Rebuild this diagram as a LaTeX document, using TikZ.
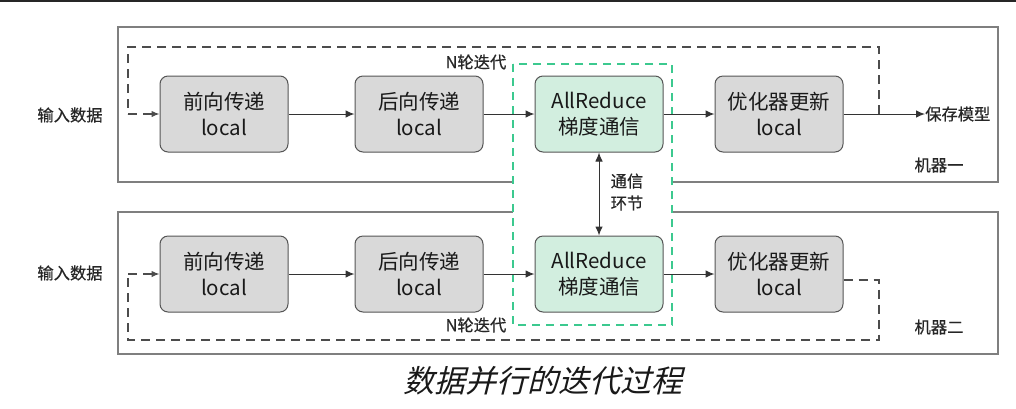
\documentclass[tikz,border=0pt]{standalone}
\usepackage{fontspec}
\setmainfont{Noto Sans CJK SC}
\newfontfamily\titlefont[FakeSlant=0.25]{Noto Sans CJK SC}
\newfontfamily\lblfont[FakeBold=0.6]{Noto Sans CJK SC}
\usetikzlibrary{arrows.meta,calc}
\definecolor{procgray}{HTML}{D9D9D9}
\definecolor{mint}{HTML}{D2EEDF}
\definecolor{dashgreen}{HTML}{3CC98F}
\definecolor{edgegray}{HTML}{555555}
\definecolor{boxgray}{HTML}{7F7F7F}
\begin{document}
\begin{tikzpicture}[x=1pt,y=-1pt,
  proc/.style={draw=edgegray, fill=procgray, rounded corners=8pt, minimum width=128pt, minimum height=76pt, align=center, line width=1pt, font=\fontsize{20.5}{26}\selectfont, inner sep=0pt, text=black!90},
  comm/.style={proc, fill=mint},
  lbl/.style={font=\lblfont\fontsize{16.3}{22}\selectfont, inner sep=0pt, align=center, text=black!85},
  flow/.style={-{Latex[length=9pt,width=7.5pt]}, line width=1pt, draw=black!80},
  loopline/.style={dash pattern=on 9pt off 6pt, line width=1.2pt, draw=black!70},
  machine/.style={draw=boxgray, line width=1.5pt},
]
\useasboundingbox (0,0) rectangle (1016,408);
\fill[white] (0,0) rectangle (1016,408);
\draw[line width=1.6pt, black!85] (0,0.8) -- (1016,0.8);

% machine frames
\draw[machine] (118,27) rectangle (998,182);
\draw[machine] (118,212) rectangle (998,354);

% communication region
\draw[dashgreen, fill=white, line width=1.2pt, dash pattern=on 8pt off 6pt] (513,64) rectangle (672,325);

% machine 1
\node[proc] (f1) at (224,114) {前向传递\\local};
\node[proc] (b1) at (419,114) {后向传递\\local};
\node[comm] (a1) at (599,114) {AllReduce\\梯度通信};
\node[proc] (o1) at (779,114) {优化器更新\\local};
\node[lbl] (in1) at (70,115) {输入数据};
\node[lbl, anchor=west] (save) at (925,114) {保存模型};
\node[lbl] (m1) at (939,165) {机器一};
\node[lbl] (n1) at (476,62) {N轮迭代};

% machine 2
\node[proc] (f2) at (224,274) {前向传递\\local};
\node[proc] (b2) at (419,274) {后向传递\\local};
\node[comm] (a2) at (599,274) {AllReduce\\梯度通信};
\node[proc] (o2) at (779,274) {优化器更新\\local};
\node[lbl] (in2) at (70,273) {输入数据};
\node[lbl] (m2) at (939,327) {机器二};
\node[lbl] (n2) at (476,325) {N轮迭代};

\node[lbl] (comlbl) at (627,192) {通信\\环节};

% solid flows
\draw[flow] (f1) -- (b1);
\draw[flow] (b1) -- (a1);
\draw[flow] (a1) -- (o1);
\draw[flow] (o1) -- (save);
\draw[flow] (f2) -- (b2);
\draw[flow] (b2) -- (a2);
\draw[flow] (a2) -- (o2);
\draw[{Latex[length=9pt,width=7.5pt]}-{Latex[length=9pt,width=7.5pt]}, line width=1pt, draw=black!80] (a1) -- (a2);

% iteration loops
\coordinate (j1) at (879,114);
\coordinate (j1t) at (879,47);
\coordinate (s1t) at (128,47);
\coordinate (s1) at (128,114);
\draw[loopline] (j1) -- (j1t) -- (s1t) -- (s1);
\draw[loopline, -{Latex[length=8pt,width=6.5pt]}] (s1) -- (f1.west);

\coordinate (j2) at ($(o2.east)+(0,6)$);
\coordinate (j2r) at (879,280);
\coordinate (j2b) at (879,340);
\coordinate (s2b) at (128,340);
\coordinate (s2) at (128,274);
\draw[loopline] (j2) -- (j2r) -- (j2b) -- (s2b) -- (s2);
\draw[loopline, -{Latex[length=8pt,width=6.5pt]}] (s2) -- (f2.west);

% title
\node[font=\titlefont\fontsize{31}{35}\selectfont, inner sep=0pt, text=black!90] (title) at (543,381) {数据并行的迭代过程};
\end{tikzpicture}
\end{document}
